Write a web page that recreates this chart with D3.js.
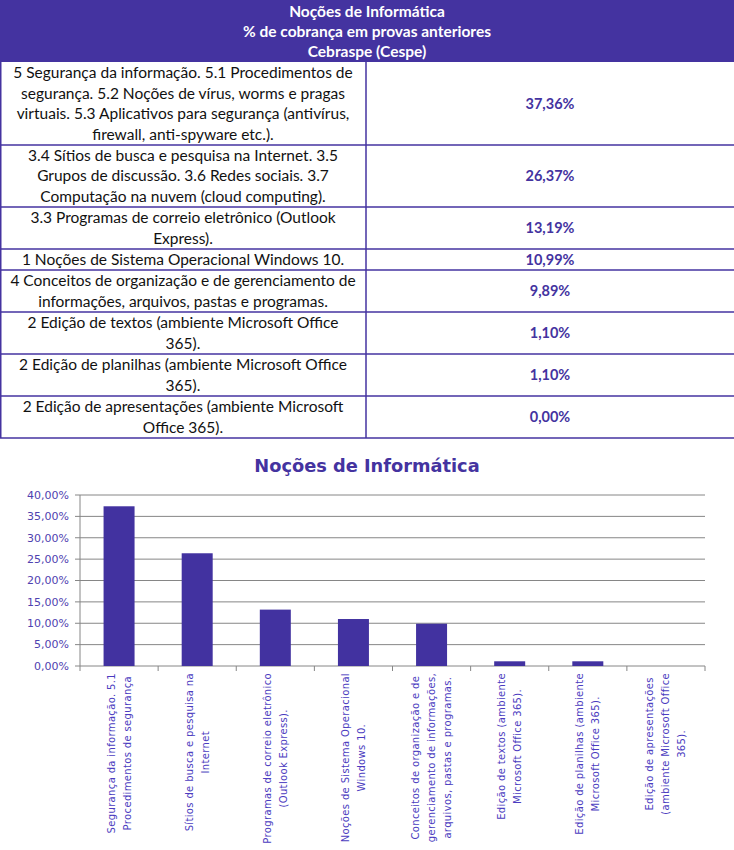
<!DOCTYPE html>
<html><head><meta charset="utf-8">
<script src="https://cdn.jsdelivr.net/npm/d3@7/dist/d3.min.js"></script>
<style>body{margin:0;background:#fff}svg{display:block}</style>
</head><body>
<svg id="c" width="734" height="850"></svg>
<script>
const headerLines = ["Noções de Informática", "% de cobrança em provas anteriores", "Cebraspe (Cespe)"];
const topicLines = [
  ["5 Segurança da informação. 5.1 Procedimentos de", "segurança. 5.2 Noções de vírus, worms e pragas", "virtuais. 5.3 Aplicativos para segurança (antivírus,", "firewall, anti-spyware etc.)."],
  ["3.4 Sítios de busca e pesquisa na Internet. 3.5", "Grupos de discussão. 3.6 Redes sociais. 3.7", "Computação na nuvem (cloud computing)."],
  ["3.3 Programas de correio eletrônico (Outlook", "Express)."],
  ["1 Noções de Sistema Operacional Windows 10."],
  ["4 Conceitos de organização e de gerenciamento de", "informações, arquivos, pastas e programas."],
  ["2 Edição de textos (ambiente Microsoft Office", "365)."],
  ["2 Edição de planilhas (ambiente Microsoft Office", "365)."],
  ["2 Edição de apresentações (ambiente Microsoft", "Office 365)."]
];
const values = [37.36, 26.37, 13.19, 10.99, 9.89, 1.10, 1.10, 0.00];
const chartTitle = "Noções de Informática";
const categoryLabels = [
  ["Segurança da informação. 5.1", "Procedimentos de segurança"],
  ["Sítios de busca e pesquisa na", "Internet"],
  ["Programas de correio eletrônico", "(Outlook Express)."],
  ["Noções de Sistema Operacional", "Windows 10."],
  ["Conceitos de organização e de", "gerenciamento de informações,", "arquivos, pastas e programas."],
  ["Edição de textos (ambiente", "Microsoft Office 365)."],
  ["Edição de planilhas (ambiente", "Microsoft Office 365)."],
  ["Edição de apresentações", "(ambiente Microsoft Office", "365)."]
];
const yTicks = [0, 5, 10, 15, 20, 25, 30, 35, 40];

const purple = "#4433a0";
const fmt = v => d3.format(".2f")(v).replace(".", ",") + "%";
const svg = d3.select("#c");
const W = 734;

// ---------- Table ----------
const headerH = 62;
svg.append("rect").attr("x", 0).attr("y", 0).attr("width", W).attr("height", headerH).attr("fill", purple);
svg.append("g").selectAll("text").data(headerLines).join("text")
  .attr("x", 367).attr("y", (d, i) => 12 + i * 20).attr("dy", "0.35em")
  .attr("text-anchor", "middle").attr("fill", "#fff")
  .attr("font-family", "Lato, sans-serif").attr("font-weight", "bold").attr("font-size", 15.5)
  .text(d => d);

const rowEdges = [62, 145, 207, 249, 270, 312, 354, 396, 438];
const colSplit = 366;
const lineH = 20.5;
const tbl = svg.append("g");
topicLines.forEach((lines, r) => {
  const y0 = rowEdges[r], y1 = rowEdges[r + 1], cy = (y0 + y1) / 2;
  tbl.append("g").selectAll("text").data(lines).join("text")
    .attr("x", colSplit / 2)
    .attr("y", (d, i) => cy + (i - (lines.length - 1) / 2) * lineH)
    .attr("dy", "0.35em").attr("text-anchor", "middle")
    .attr("fill", "#111").attr("font-family", "Lato, sans-serif").attr("font-size", 15.5)
    .text(d => d);
  tbl.append("text").attr("x", (colSplit + W) / 2).attr("y", cy).attr("dy", "0.35em")
    .attr("text-anchor", "middle").attr("fill", purple)
    .attr("font-family", "Lato, sans-serif").attr("font-weight", "bold").attr("font-size", 14.5)
    .text(fmt(values[r]));
});
tbl.selectAll("line.h").data(rowEdges.slice(1)).join("line")
  .attr("x1", 0).attr("x2", W).attr("y1", d => d).attr("y2", d => d)
  .attr("stroke", purple).attr("stroke-width", 1.5);
tbl.append("line").attr("x1", colSplit).attr("x2", colSplit).attr("y1", 62).attr("y2", 438)
  .attr("stroke", purple).attr("stroke-width", 1.5);
tbl.append("line").attr("x1", 0.75).attr("x2", 0.75).attr("y1", 62).attr("y2", 438)
  .attr("stroke", purple).attr("stroke-width", 1.5);

// ---------- Chart ----------
svg.append("text").attr("x", 367).attr("y", 466).attr("dy", "0.35em").attr("text-anchor", "middle")
  .attr("fill", purple).attr("font-family", "'DejaVu Sans', sans-serif").attr("font-weight", "bold")
  .attr("font-size", 17.8).text(chartTitle);

const pLeft = 80, pRight = 705, pTop = 495, pBottom = 666;
const x = d3.scaleBand().domain(d3.range(values.length)).range([pLeft, pRight]).paddingInner(0).paddingOuter(0);
const y = d3.scaleLinear().domain([0, 40]).range([pBottom, pTop]);
const grid = "#868686";

svg.append("g").selectAll("line").data(yTicks).join("line")
  .attr("x1", pLeft - 5).attr("x2", pRight).attr("y1", d => y(d)).attr("y2", d => y(d))
  .attr("stroke", grid).attr("stroke-width", 1);
svg.append("line").attr("x1", pLeft).attr("x2", pLeft).attr("y1", pTop).attr("y2", pBottom)
  .attr("stroke", grid);
svg.append("g").selectAll("line").data(d3.range(values.length + 1)).join("line")
  .attr("x1", i => pLeft + i * x.bandwidth()).attr("x2", i => pLeft + i * x.bandwidth())
  .attr("y1", pBottom).attr("y2", pBottom + 5).attr("stroke", grid);
svg.append("g").selectAll("text").data(yTicks).join("text")
  .attr("x", pLeft - 11).attr("y", d => y(d)).attr("dy", "0.35em").attr("text-anchor", "end")
  .attr("fill", "#4f42b0").attr("font-family", "'DejaVu Sans', sans-serif").attr("font-size", 11)
  .text(d => fmt(d));

const barW = 31;
svg.append("g").selectAll("rect").data(values).join("rect")
  .attr("x", (d, i) => x(i) + x.bandwidth() / 2 - barW / 2).attr("width", barW)
  .attr("y", d => y(d)).attr("height", d => pBottom - y(d)).attr("fill", "#4232a0");

const labG = svg.append("g");
categoryLabels.forEach((lines, i) => {
  const g = labG.append("g").attr("transform", `translate(${x(i) + x.bandwidth() / 2},673) rotate(-90)`);
  const t = g.selectAll("text").data(lines).join("text")
    .attr("text-anchor", "middle").attr("fill", "#4b3cc0")
    .attr("font-family", "'DejaVu Sans', sans-serif").attr("font-size", 10)
    .attr("letter-spacing", 0.35)
    .attr("y", (d, k) => (k - (lines.length - 1) / 2) * 16).attr("dy", "0.35em")
    .text(d => d);
  let maxW = 0;
  t.each(function () { maxW = Math.max(maxW, this.getComputedTextLength()); });
  t.attr("x", -maxW / 2);
});
</script>
</body></html>
